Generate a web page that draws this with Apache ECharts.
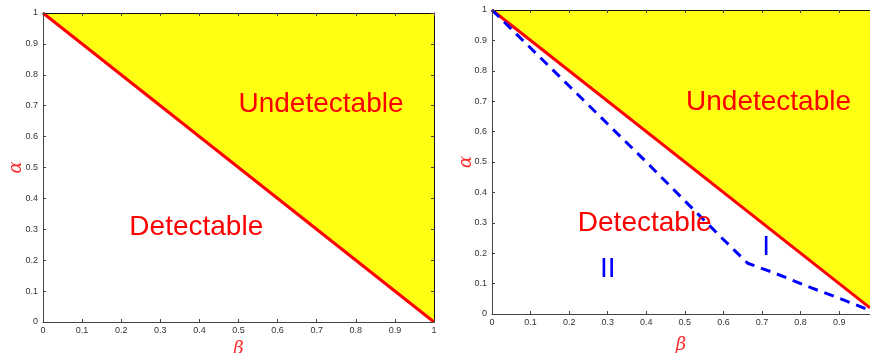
<!DOCTYPE html>
<html>
<head>
<meta charset="utf-8">
<script src="https://cdn.jsdelivr.net/npm/echarts@6/dist/echarts.min.js"></script>
<style>
  html, body { margin: 0; padding: 0; background: #fff; }
  #main { width: 870px; height: 353px; }
</style>
</head>
<body>
<div id="main"></div>
<script>
// boundary alpha = 1 - beta
const boundaryLeft = [[0, 1], [1, 0]];
const boundaryRight = [[0, 1], [0.98, 0.02]];

// blue dashed curve (right panel)
const dashedBeta = [0, 0.1, 0.2, 0.3, 0.4, 0.5, 0.6, 0.663, 0.73, 0.83, 0.9, 0.98];
const dashedAlpha = [1, 0.875, 0.75, 0.625, 0.5, 0.372, 0.245, 0.167, 0.136, 0.085, 0.052, 0.012];

// region labels [beta, alpha, text]
const labelsLeft = [[0.711, 0.706, 'Undetectable'], [0.392, 0.305, 'Detectable']];
const labelsRight = [[0.717, 0.698, 'Undetectable'], [0.396, 0.299, 'Detectable']];
const romanRight = [[0.30, 0.146, 'II'], [0.711, 0.22, 'I']];

const tickFont = { fontFamily: 'Arial', fontSize: 9, color: '#333' };
const nameFont = { color: '#ff2a2a', fontFamily: 'DejaVu Serif', fontStyle: 'italic', fontSize: 18 };

function xAxes(gridIndex, max, nameGap) {
  return [
    {
      gridIndex, type: 'value', min: 0, max, interval: 0.1, z: 10,
      name: 'β', nameLocation: 'middle', nameGap, nameTextStyle: nameFont,
      axisLine: { onZero: false, lineStyle: { color: '#444', width: 1 } },
      axisTick: { inside: true, length: 3, lineStyle: { color: '#444' } },
      axisLabel: Object.assign({ margin: 4, showMaxLabel: max === 1 }, tickFont),
      splitLine: { show: false }
    },
    {
      gridIndex, type: 'value', min: 0, max, interval: 0.1, position: 'top', z: 10,
      axisLine: { onZero: false, lineStyle: { color: '#111', width: 1 } },
      axisTick: { inside: true, length: 3, lineStyle: { color: '#444' } },
      axisLabel: { show: false },
      splitLine: { show: false }
    }
  ];
}

function yAxes(gridIndex, nameGap, showRight) {
  return [
    {
      gridIndex, type: 'value', min: 0, max: 1, interval: 0.1, z: 10,
      name: 'α', nameLocation: 'middle', nameGap, nameRotate: 90, nameMoveOverlap: false,
      nameTextStyle: nameFont,
      axisLine: { onZero: false, lineStyle: { color: '#444', width: 1 } },
      axisTick: { inside: true, length: 3, lineStyle: { color: '#444' } },
      axisLabel: Object.assign({ margin: 5 }, tickFont),
      splitLine: { show: false }
    },
    {
      gridIndex, type: 'value', min: 0, max: 1, interval: 0.1, position: 'right', z: 10,
      axisLine: { show: showRight, onZero: false, lineStyle: { color: '#111', width: 1 } },
      axisTick: { show: showRight, inside: true, length: 3, lineStyle: { color: '#444' } },
      axisLabel: { show: false },
      splitLine: { show: false }
    }
  ];
}

function boundary(xi, yi, data) {
  return {
    type: 'line', xAxisIndex: xi, yAxisIndex: yi, data,
    symbol: 'none', silent: true, z: 3,
    lineStyle: { color: '#ff0000', width: 3 },
    areaStyle: { origin: 'end', color: '#ffff14', opacity: 1 }
  };
}

function textSeries(xi, yi, data, color, size) {
  return {
    type: 'scatter', xAxisIndex: xi, yAxisIndex: yi, data,
    symbolSize: 0, silent: true, z: 5,
    itemStyle: { opacity: 1 },
    label: {
      show: true, position: 'inside', formatter: p => p.data[2],
      color, fontFamily: 'Arial', fontSize: size
    }
  };
}

const option = {
  animation: false,
  backgroundColor: '#fff',
  grid: [
    { left: 43, top: 13, width: 391, height: 309, outerBoundsMode: 'none' },
    { left: 492, top: 10, width: 378, height: 304, outerBoundsMode: 'none' }
  ],
  xAxis: [...xAxes(0, 1, 14), ...xAxes(1, 0.98, 22)],
  yAxis: [...yAxes(0, 18, true), ...yAxes(1, 17, false)],
  series: [
    boundary(0, 0, boundaryLeft),
    boundary(2, 2, boundaryRight),
    {
      type: 'line', xAxisIndex: 2, yAxisIndex: 2,
      data: dashedBeta.map((b, i) => [b, dashedAlpha[i]]),
      symbol: 'none', silent: true, z: 4,
      lineStyle: { color: '#0000ff', width: 3, type: [10, 7] }
    },
    textSeries(0, 0, labelsLeft, '#ff0000', 28),
    textSeries(2, 2, labelsRight, '#ff0000', 28),
    textSeries(2, 2, romanRight, '#0000ff', 28)
  ]
};

const chart = echarts.init(document.getElementById('main'));
chart.setOption(option);
window.addEventListener('resize', function () {
  chart.resize();
});
</script>
</body>
</html>
